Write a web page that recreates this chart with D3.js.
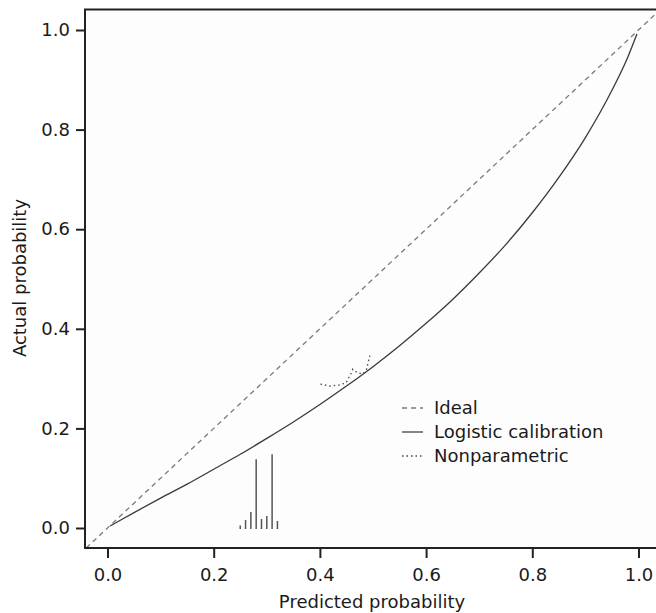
<!DOCTYPE html>
<meta charset="utf-8">
<style>
    body { margin: 0; background: #fff; }
    text { font-family: "DejaVu Sans", sans-serif; font-size: 18px; fill: #1a1a1a; }
</style>
<svg width="656" height="613"></svg>
<script src="https://cdn.jsdelivr.net/npm/d3@7"></script>
<script>

    // logistic calibration curve
    var logisticX = [0.005, 0.01, 0.05, 0.1, 0.15, 0.2, 0.25, 0.3, 0.35, 0.4, 0.45, 0.5,
        0.55, 0.6, 0.65, 0.7, 0.75, 0.8, 0.85, 0.9, 0.95, 0.98, 0.997];
    var logisticY = [0.004, 0.007, 0.031, 0.060, 0.088, 0.118, 0.148, 0.180, 0.213, 0.248, 0.285, 0.324,
        0.366, 0.411, 0.459, 0.512, 0.569, 0.633, 0.704, 0.784, 0.879, 0.946, 0.992];

    // nonparametric (lowess) curve
    var npX = [0.401, 0.419, 0.435, 0.449, 0.458, 0.462, 0.470, 0.481, 0.488, 0.491, 0.494];
    var npY = [0.289, 0.285, 0.287, 0.291, 0.309, 0.319, 0.312, 0.309, 0.319, 0.333, 0.346];

    // spike histogram of predicted probabilities
    var histX = [0.25, 0.26, 0.27, 0.28, 0.29, 0.30, 0.31, 0.32];
    var histH = [0.007, 0.018, 0.034, 0.140, 0.020, 0.026, 0.150, 0.016];

    var ticks = [0, 0.2, 0.4, 0.6, 0.8, 1.0];
    var legendLabels = ["Ideal", "Logistic calibration", "Nonparametric"];

    var svg = d3.select("svg");

    var x = d3.scaleLinear().domain([0, 1]).range([107.5, 638.5]);
    var y = d3.scaleLinear().domain([0, 1]).range([528, 30]);

    var boxL = 85, boxR = 656, boxT = 9.5, boxB = 548;

    svg.append("rect")
        .attr("x", boxL).attr("y", boxT)
        .attr("width", boxR - boxL).attr("height", boxB - boxT)
        .attr("fill", "#fdfdfd");

    // ideal diagonal across whole panel
    var lo = Math.max(x.invert(boxL), y.invert(boxB)),
        hi = Math.min(x.invert(boxR), y.invert(boxT));
    svg.append("line")
        .attr("x1", x(lo)).attr("y1", y(lo))
        .attr("x2", x(hi)).attr("y2", y(hi))
        .attr("stroke", "#7a7a7a")
        .attr("stroke-width", 1.3)
        .attr("stroke-dasharray", "5,4");

    var line = d3.line()
        .x(function(d) { return x(d[0]); })
        .y(function(d) { return y(d[1]); })
        .curve(d3.curveMonotoneX);

    svg.append("path")
        .datum(d3.zip(logisticX, logisticY))
        .attr("d", line)
        .attr("fill", "none")
        .attr("stroke", "#3a3a3a")
        .attr("stroke-width", 1.3);

    svg.append("path")
        .datum(d3.zip(npX, npY))
        .attr("d", d3.line()
            .x(function(d) { return x(d[0]); })
            .y(function(d) { return y(d[1]); }))
        .attr("fill", "none")
        .attr("stroke", "#444")
        .attr("stroke-width", 1.3)
        .attr("stroke-dasharray", "1.5,3");

    svg.selectAll(".spike")
        .data(d3.zip(histX, histH))
        .enter().append("line")
        .attr("class", "spike")
        .attr("x1", function(d) { return x(d[0]); })
        .attr("x2", function(d) { return x(d[0]); })
        .attr("y1", y(0) + 1)
        .attr("y2", function(d) { return y(d[1]) + 1; })
        .attr("stroke", "#555")
        .attr("stroke-width", 1.5);

    // box: left, top, bottom
    svg.append("path")
        .attr("d", "M" + boxR + "," + boxT + "H" + boxL + "V" + boxB + "H" + boxR)
        .attr("fill", "none")
        .attr("stroke", "#222")
        .attr("stroke-width", 2);

    var fmt = d3.format(".1f");

    var xAxis = svg.append("g")
        .attr("transform", "translate(0," + boxB + ")")
        .call(d3.axisBottom(x).tickValues(ticks).tickFormat(fmt).tickSize(10).tickPadding(10));
    var yAxis = svg.append("g")
        .attr("transform", "translate(" + boxL + ",0)")
        .call(d3.axisLeft(y).tickValues(ticks).tickFormat(fmt).tickSize(9).tickPadding(6));

    [xAxis, yAxis].forEach(function(g) {
        g.select(".domain").remove();
        g.selectAll(".tick line").attr("stroke", "#222").attr("stroke-width", 2);
        g.selectAll(".tick text")
            .attr("fill", "#1a1a1a")
            .style("font-size", "18px")
            .style("font-family", "'DejaVu Sans', sans-serif");
    });
    xAxis.selectAll(".tick text").attr("dy", "0.71em");

    svg.append("text")
        .attr("x", 372).attr("y", 608)
        .attr("text-anchor", "middle")
        .text("Predicted probability");

    svg.append("text")
        .attr("transform", "translate(26,278) rotate(-90)")
        .attr("text-anchor", "middle")
        .text("Actual probability");

    // legend
    var dashes = ["5,4", null, "1.5,3"];
    var legend = svg.selectAll(".legend")
        .data(legendLabels)
        .enter().append("g")
        .attr("class", "legend")
        .attr("transform", function(d, i) { return "translate(402," + (408 + i * 24) + ")"; });
    legend.append("line")
        .attr("x1", 0).attr("x2", 21)
        .attr("stroke", function(d, i) { return i === 0 ? "#7a7a7a" : "#444"; })
        .attr("stroke-width", 1.3)
        .attr("stroke-dasharray", function(d, i) { return dashes[i]; });
    legend.append("text")
        .attr("x", 32).attr("dy", "0.36em")
        .text(function(d) { return d; });

</script>
